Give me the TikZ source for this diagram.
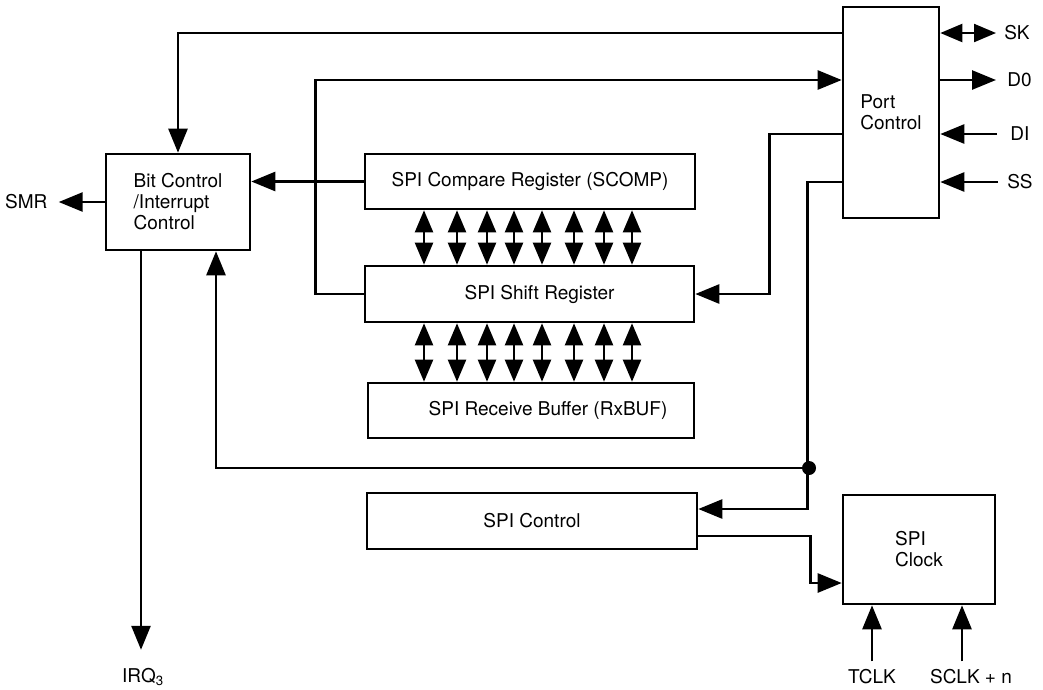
\documentclass[tikz,border=0pt]{standalone}
\usepackage{fontspec}
\setmainfont{TeX Gyre Heros}
\usetikzlibrary{arrows.meta,calc}

\begin{document}
\begin{tikzpicture}[x=1pt,y=-1pt,line width=2.6pt,
  box/.style={draw,rectangle,inner sep=0pt,align=left,font=\fontsize{19}{21}\selectfont},
  lbl/.style={inner sep=0pt,font=\fontsize{19}{21}\selectfont},
  arr/.style={-{Triangle[length=24pt,width=19pt]}},
  dbl/.style={line width=2.2pt,{Triangle[length=22pt,width=18pt]}-{Triangle[length=22pt,width=18pt]}}]
  \useasboundingbox (0,0) rectangle (1043,689);

  % blocks
  \node[box,minimum width=144pt,minimum height=96pt] (bitctl) at (178,202) {Bit Control\\/Interrupt\\Control};
  \node[box,minimum width=96pt,minimum height=211pt] (portctl) at (891,112.5) {Port\\Control};
  \node[box,minimum width=330pt,minimum height=55pt] (scomp) at (530,181.5) {SPI Compare Register (SCOMP)};
  \node[box,minimum width=329pt,minimum height=56pt] (shift) at (529.5,294) {\hspace*{20pt}SPI Shift Register};
  \node[box,minimum width=326pt,minimum height=55pt] (rxbuf) at (531,410.5) {\hspace*{34pt}SPI Receive Buffer (RxBUF)};
  \node[box,minimum width=330pt,minimum height=56pt] (spictl) at (532,521) {SPI Control};
  \node[box,minimum width=152pt,minimum height=109pt] (spiclk) at (919,549.5) {SPI\\Clock};

  % pins
  \node[lbl,anchor=west] (sk) at (1003,33) {SK};
  \node[lbl,anchor=west] (d0) at (1006,80) {D0};
  \node[lbl,anchor=west] (di) at (1009,134) {DI};
  \node[lbl,anchor=west] (ss) at (1006,182) {SS};
  \node[lbl] (irq) at (143,677) {IRQ\textsubscript{3}};
  \node[lbl] (tclk) at (872,677) {TCLK};
  \node[lbl] (sclk) at (971,677) {SCLK + n};

  \draw[dbl] (portctl.east |- sk) -- ([xshift=-7pt]sk.west);
  \draw[arr] (portctl.east |- d0) -- ([xshift=-10pt]d0.west);
  \draw[arr] ([xshift=-12pt]di.west) -- (portctl.east |- di);
  \draw[arr] ([xshift=-8pt]ss.west) -- (portctl.east |- ss);

  % port control to the registers
  \draw[arr] (portctl.west |- sk) -| (bitctl.north);
  \draw[arr] (shift.west) -- ++(-48,0) |- (portctl.west |- d0);
  \draw[arr] (portctl.west |- di) -- ++(-72,0) |- (shift.east);
  \draw[arr] (portctl.west |- ss) -- ++(-34,0) |- ([yshift=12pt]spictl.east);
  \coordinate (jn) at (809,468);
  \fill (jn) circle (7pt);
  \draw[arr] (jn) -| ([xshift=38pt]bitctl.south);

  \draw[arr] (scomp.west) -- (scomp.west -| bitctl.east);
  \draw[arr] (bitctl.west) -- ++(-46,0) node[lbl,left=10pt] (smr) {SMR};
  \draw[arr,shorten >=17pt] ([xshift=-37pt]bitctl.south) -- ([xshift=-37pt]bitctl.south |- irq.north);

  % data bus
  \foreach \x in {424,457,487,514,542,574,604,632} {
    \draw[dbl] (\x,0 |- scomp.south) -- (\x,0 |- shift.north);
    \draw[dbl] (\x,0 |- shift.south) -- (\x,0 |- rxbuf.north);
  }

  % clock
  \draw[arr] ([yshift=-15pt]spictl.east) -- ++(112,0) |- ([yshift=-33.5pt]spiclk.west);
  \draw[arr,shorten <=7pt] (tclk.north) -- (tclk.north |- spiclk.south);
  \draw[arr,shorten <=7pt] ([xshift=-9pt]sclk.north) -- ([xshift=-9pt]sclk.north |- spiclk.south);
\end{tikzpicture}
\end{document}
